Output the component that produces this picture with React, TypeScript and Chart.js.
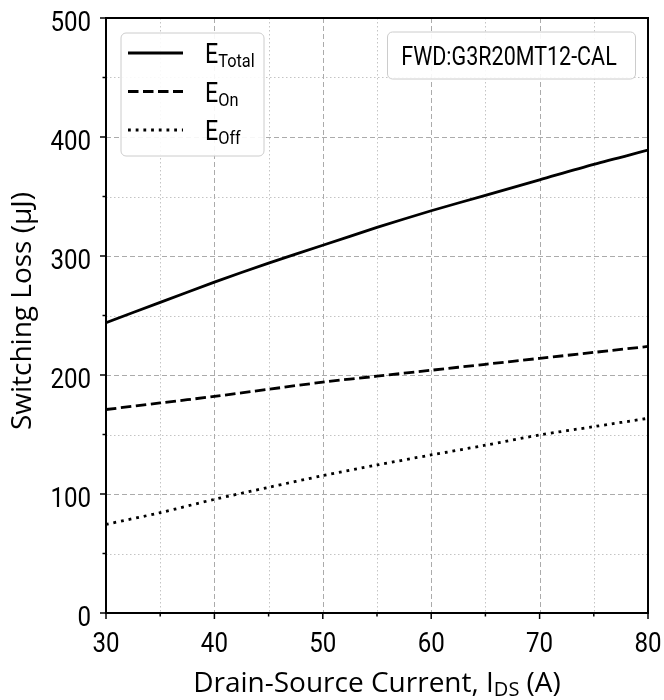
import React, { useEffect, useRef } from 'react';
import { Chart, registerables } from 'chart.js';

Chart.register(...registerables);

// ---- data ----
const currents = [30, 35, 40, 45, 50, 55, 60, 65, 70, 75, 80];
const eTotal = [244, 261, 278, 294, 309, 324, 338, 351, 364, 377, 389];
const eOn = [171, 176.5, 182, 188, 194, 199, 204, 209, 214, 219, 224];
const eOff = [74.5, 84.3, 95.5, 105.6, 115.4, 124.4, 132.8, 141, 149.6, 156.6, 163.6];
const xMajorTicks = [30, 40, 50, 60, 70, 80];
const xMinorTicks = [35, 45, 55, 65, 75];
const yMajorTicks = [0, 100, 200, 300, 400, 500];
const yMinorTicks = [50, 150, 250, 350, 450];
const seriesSubs = ['Total', 'On', 'Off'];
const annotationText = 'FWD:G3R20MT12-CAL';
const xTitleMain = 'Drain-Source Current, I';
const xTitleSub = 'DS';
const xTitleEnd = ' (A)';
const yTitle = 'Switching Loss (\u03bcJ)';

const COND = "Roboto, 'Noto Sans', sans-serif";
const SQUEEZE = 0.86;
const TITLE = "'Open Sans', 'Noto Sans', sans-serif";

const dashes: number[][] = [[], [10.5, 4.5], [2.8, 4.9]];

function roundRect(ctx: CanvasRenderingContext2D, x: number, y: number, w: number, h: number, r: number) {
  ctx.beginPath();
  ctx.moveTo(x + r, y);
  ctx.lineTo(x + w - r, y);
  ctx.arcTo(x + w, y, x + w, y + r, r);
  ctx.lineTo(x + w, y + h - r);
  ctx.arcTo(x + w, y + h, x + w - r, y + h, r);
  ctx.lineTo(x + r, y + h);
  ctx.arcTo(x, y + h, x, y + h - r, r);
  ctx.lineTo(x, y + r);
  ctx.arcTo(x, y, x + r, y, r);
  ctx.closePath();
}

// draws horizontally condensed text; returns drawn width
function condText(ctx: CanvasRenderingContext2D, text: string, x: number, y: number, size: number, align: CanvasTextAlign) {
  ctx.save();
  ctx.font = `${size}px ${COND}`;
  ctx.textAlign = align;
  ctx.textBaseline = 'alphabetic';
  ctx.translate(x, y);
  ctx.scale(SQUEEZE, 1);
  ctx.fillText(text, 0, 0);
  const w = ctx.measureText(text).width * SQUEEZE;
  ctx.restore();
  return w;
}

const decoPlugin = {
  id: 'deco',
  beforeDatasetsDraw(chart: any) {
    const { ctx, chartArea: a, scales } = chart;
    const x = scales.x;
    const y = scales.y;
    ctx.save();
    ctx.beginPath();
    ctx.rect(a.left, a.top, a.right - a.left, a.bottom - a.top);
    ctx.clip();
    ctx.lineWidth = 1;
    ctx.strokeStyle = '#c4c4c4';
    ctx.setLineDash([1.5, 2.5]);
    for (const v of xMinorTicks) {
      const px = Math.round(x.getPixelForValue(v)) + 0.5;
      ctx.beginPath(); ctx.moveTo(px, a.top); ctx.lineTo(px, a.bottom); ctx.stroke();
    }
    for (const v of yMinorTicks) {
      const py = Math.round(y.getPixelForValue(v)) + 0.5;
      ctx.beginPath(); ctx.moveTo(a.left, py); ctx.lineTo(a.right, py); ctx.stroke();
    }
    ctx.strokeStyle = '#ababab';
    ctx.setLineDash([5, 3]);
    for (const v of xMajorTicks) {
      const px = Math.round(x.getPixelForValue(v)) + 0.5;
      ctx.beginPath(); ctx.moveTo(px, a.top); ctx.lineTo(px, a.bottom); ctx.stroke();
    }
    for (const v of yMajorTicks) {
      const py = Math.round(y.getPixelForValue(v)) + 0.5;
      ctx.beginPath(); ctx.moveTo(a.left, py); ctx.lineTo(a.right, py); ctx.stroke();
    }
    ctx.restore();
  },
  afterDraw(chart: any) {
    const { ctx, chartArea: a, scales } = chart;
    const x = scales.x;
    const y = scales.y;
    ctx.save();
    ctx.strokeStyle = '#000';
    ctx.fillStyle = '#000';
    ctx.lineWidth = 1.5;
    ctx.setLineDash([]);
    // ticks + labels
    for (const v of xMajorTicks) {
      const px = x.getPixelForValue(v);
      ctx.beginPath(); ctx.moveTo(px, a.bottom); ctx.lineTo(px, a.bottom + 6); ctx.stroke();
      condText(ctx, String(v), px, a.bottom + 39, 28, 'center');
    }
    for (const v of xMinorTicks) {
      const px = x.getPixelForValue(v);
      ctx.beginPath(); ctx.moveTo(px, a.bottom); ctx.lineTo(px, a.bottom + 3.5); ctx.stroke();
    }
    for (const v of yMajorTicks) {
      const py = y.getPixelForValue(v);
      ctx.beginPath(); ctx.moveTo(a.left, py); ctx.lineTo(a.left - 6, py); ctx.stroke();
      condText(ctx, String(v), a.left - 15, py + 12.5, 28, 'right');
    }
    for (const v of yMinorTicks) {
      const py = y.getPixelForValue(v);
      ctx.beginPath(); ctx.moveTo(a.left, py); ctx.lineTo(a.left - 3.5, py); ctx.stroke();
    }
    // frame
    ctx.lineWidth = 2;
    ctx.strokeRect(a.left, a.top, a.right - a.left, a.bottom - a.top);

    // legend box
    ctx.lineWidth = 1;
    roundRect(ctx, 121, 33, 143, 123, 5);
    ctx.fillStyle = 'rgba(255,255,255,0.9)';
    ctx.fill();
    ctx.strokeStyle = '#cccccc';
    ctx.stroke();
    const rows = [53, 91.5, 130];
    chart.data.datasets.forEach((ds: any, i: number) => {
      const ry = rows[i];
      ctx.strokeStyle = '#000';
      ctx.lineWidth = 2.8;
      ctx.setLineDash(ds.borderDash || []);
      ctx.beginPath(); ctx.moveTo(128, ry); ctx.lineTo(183, ry); ctx.stroke();
      ctx.setLineDash([]);
      ctx.fillStyle = '#000';
      const ew = condText(ctx, 'E', 205, ry + 10, 27, 'left');
      condText(ctx, seriesSubs[i], 205 + ew, ry + 14, 19, 'left');
    });

    // annotation box
    ctx.lineWidth = 1;
    roundRect(ctx, 387.5, 32, 248, 47, 5);
    ctx.fillStyle = 'rgba(255,255,255,0.9)';
    ctx.fill();
    ctx.strokeStyle = '#cccccc';
    ctx.stroke();
    ctx.fillStyle = '#000';
    condText(ctx, annotationText, 509, 64.5, 25, 'center');

    // x title
    const cx = (a.left + a.right) / 2;
    ctx.font = `28px ${TITLE}`;
    const w1 = ctx.measureText(xTitleMain).width;
    const w3 = ctx.measureText(xTitleEnd).width;
    ctx.font = `20px ${TITLE}`;
    const w2 = ctx.measureText(xTitleSub).width;
    const total = w1 + w2 + w3;
    let sx = cx - total / 2;
    const by = 692;
    ctx.textAlign = 'left';
    ctx.textBaseline = 'alphabetic';
    ctx.font = `28px ${TITLE}`;
    ctx.fillText(xTitleMain, sx, by);
    sx += w1;
    ctx.font = `20px ${TITLE}`;
    ctx.fillText(xTitleSub, sx, by + 4);
    sx += w2;
    ctx.font = `28px ${TITLE}`;
    ctx.fillText(xTitleEnd, sx, by);

    // y title
    ctx.translate(31, 311);
    ctx.rotate(-Math.PI / 2);
    ctx.textAlign = 'center';
    ctx.font = `28px ${TITLE}`;
    ctx.fillText(yTitle, 0, 0);
    ctx.restore();
  },
};

const zeroPad = (s: any) => {
  s.paddingLeft = 0;
  s.paddingRight = 0;
  s.paddingTop = 0;
  s.paddingBottom = 0;
};

export default function App() {
  const ref = useRef<HTMLCanvasElement>(null);
  useEffect(() => {
    if (!ref.current) return;
    const mk = (vals: number[]) => currents.map((c, i) => ({ x: c, y: vals[i] }));
    const chart = new Chart(ref.current, {
      type: 'line',
      data: {
        datasets: [
          { label: 'E_Total', data: mk(eTotal), borderColor: '#000', borderWidth: 2.8, borderDash: dashes[0], pointRadius: 0, fill: false, tension: 0.3 },
          { label: 'E_On', data: mk(eOn), borderColor: '#000', borderWidth: 2.8, borderDash: dashes[1], pointRadius: 0, fill: false, tension: 0.3 },
          { label: 'E_Off', data: mk(eOff), borderColor: '#000', borderWidth: 2.8, borderDash: dashes[2], pointRadius: 0, fill: false, tension: 0.3 },
        ],
      },
      options: {
        animation: false,
        responsive: false,
        devicePixelRatio: 1,
        layout: { padding: { left: 0, top: 18, right: 16, bottom: 0 } },
        plugins: { legend: { display: false }, tooltip: { enabled: false } },
        scales: {
          x: {
            type: 'linear',
            min: 30,
            max: 80,
            grid: { display: false, drawTicks: false },
            border: { display: false },
            afterFit: (s: any) => { s.height = 87; zeroPad(s); },
            ticks: { stepSize: 10, display: false },
          },
          y: {
            type: 'linear',
            min: 0,
            max: 500,
            grid: { display: false, drawTicks: false },
            border: { display: false },
            afterFit: (s: any) => { s.width = 106; zeroPad(s); },
            ticks: { stepSize: 100, display: false },
          },
        },
      },
      plugins: [decoPlugin],
    });
    return () => chart.destroy();
  }, []);
  return (
    <div style={{ position: 'absolute', left: 0, top: 0, width: 664, height: 700, background: '#fff' }}>
      <canvas ref={ref} width={664} height={700} style={{ width: 664, height: 700, display: 'block' }} />
    </div>
  );
}
